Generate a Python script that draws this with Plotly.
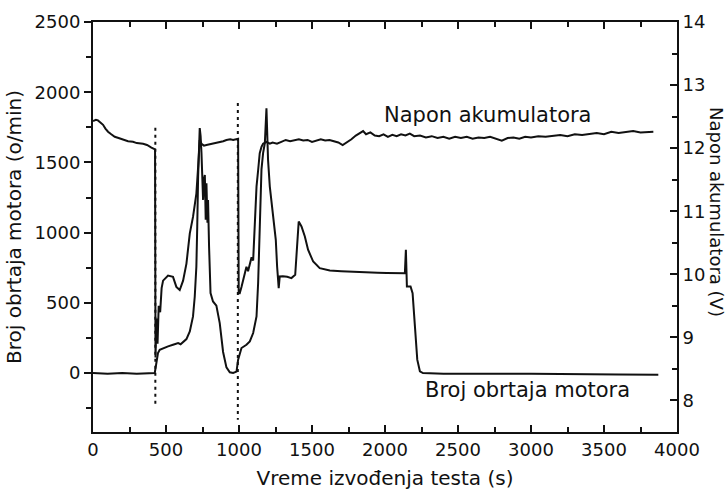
import plotly.graph_objects as go

# Battery voltage (right axis, V)
t_volt = [0, 20, 34, 50, 69, 85, 103, 125, 149, 175, 206, 240, 274, 300, 343, 370, 400, 425,
          428, 435, 442, 450, 460, 470, 480, 514, 548, 571, 594, 617, 640, 663, 685, 708, 720,
          731, 743, 760, 777, 800, 823, 846, 870, 892, 914, 940, 960, 983, 994, 998,
          1005, 1017, 1040, 1051, 1062, 1074, 1086, 1097, 1108, 1120, 1131, 1142, 1154, 1165,
          1188, 1211, 1230, 1260, 1290, 1320, 1350, 1380, 1410, 1440, 1470, 1500, 1530, 1560,
          1590, 1620, 1650, 1680, 1710, 1740, 1770, 1800, 1830, 1850, 1870, 1900, 1930, 1960,
          1990, 2020, 2050, 2080, 2110, 2140, 2170, 2200, 2240, 2280, 2320, 2360, 2400, 2440,
          2480, 2520, 2560, 2600, 2640, 2680, 2720, 2760, 2800, 2840, 2880, 2920, 2960, 3000,
          3050, 3100, 3150, 3200, 3250, 3300, 3350, 3400, 3450, 3500, 3550, 3600, 3650, 3700,
          3750, 3800, 3838]
volt = [12.43, 12.45, 12.44, 12.40, 12.37, 12.31, 12.26, 12.22, 12.18, 12.16, 12.13, 12.11,
        12.10, 12.08, 12.07, 12.05, 12.01, 11.98,
        8.68, 9.3, 8.9, 9.5, 9.4, 9.78, 9.90, 9.98, 9.96, 9.80, 9.75, 9.90, 10.17, 10.65, 10.91,
        11.28, 11.70, 12.13, 12.07, 12.04, 12.05, 12.06, 12.07, 12.08, 12.10, 12.11, 12.13,
        12.14, 12.13, 12.15, 12.15, 9.70,
        9.70, 9.80, 10.01, 10.12, 10.05, 10.17, 10.27, 10.22, 10.75, 11.39, 11.65, 11.92,
        12.02, 12.07, 12.10, 12.07, 12.09, 12.07, 12.10, 12.13, 12.11, 12.12, 12.14, 12.12,
        12.13, 12.10, 12.12, 12.14, 12.12, 12.13, 12.11, 12.09, 12.05, 12.09, 12.14, 12.20,
        12.24, 12.27, 12.22, 12.25, 12.20, 12.19, 12.22, 12.18, 12.21, 12.19, 12.22, 12.20,
        12.23, 12.19, 12.20, 12.17, 12.19, 12.16, 12.18, 12.15, 12.18, 12.16, 12.18, 12.15,
        12.17, 12.16, 12.18, 12.15, 12.12, 12.16, 12.17, 12.15, 12.18, 12.17, 12.19, 12.18,
        12.20, 12.21, 12.19, 12.22, 12.21, 12.23, 12.24, 12.22, 12.26, 12.24, 12.25, 12.27,
        12.25, 12.26, 12.26]

# Engine speed (left axis, o/min)
t_rpm = [0, 100, 200, 300, 423, 436, 445, 457, 480, 514, 548, 583, 600, 640, 663, 685, 697,
         708, 714, 720, 731, 737, 743, 754, 760, 766, 772, 777, 784, 788, 795, 805, 822, 845,
         868, 891, 914, 937, 960, 983, 994, 1017, 1051, 1074, 1097, 1120, 1131, 1142, 1154,
         1165, 1177, 1188, 1193, 1199, 1211, 1234, 1252, 1261, 1272, 1279, 1300, 1330, 1359,
         1385, 1400, 1409, 1428, 1451, 1473, 1508, 1553, 1622, 1700, 1782, 1850, 1896, 1950,
         2011, 2070, 2124, 2136, 2143, 2150, 2175, 2189, 2205, 2221, 2239, 2260, 2400, 2600,
         2800, 3000, 3200, 3400, 3600, 3872]
rpm = [0, -5, 0, -5, 0, 107, 142, 166, 178, 190, 201, 213, 205, 242, 296, 403, 545, 759, 1044,
       1399, 1744, 1690, 1566, 1233, 1380, 1411, 1091, 1352, 1070, 1233, 900, 569, 510, 480,
       356, 150, 40, 5, 0, 10, 95, 178, 201, 225, 285, 403, 641, 1100, 1450, 1566, 1637, 1886,
       1700, 1518, 1328, 1115, 949, 759, 605, 688, 690, 685, 676, 700, 901, 1079, 1044, 972,
       878, 794, 747, 730, 725, 723, 718, 715, 714, 712, 713, 712, 710, 878, 617, 617, 569,
       332, 95, 12, 0, -5, -3, -6, -5, -8, -8, -10, -12]

# Dashed markers (start attempts)
mark_t = [427, 992]
mark_top = [1746, 1924]
mark_bottom = [-226, -332]

FONT = "DejaVu Sans"
INK = "#111111"

fig = go.Figure()
fig.add_trace(go.Scatter(x=t_rpm, y=rpm, mode="lines", line=dict(color=INK, width=2),
                         showlegend=False, name="Broj obrtaja motora"))
fig.add_trace(go.Scatter(x=t_volt, y=volt, mode="lines", line=dict(color=INK, width=2),
                         yaxis="y2", showlegend=False, name="Napon akumulatora"))
for tm, top, bot in zip(mark_t, mark_top, mark_bottom):
    fig.add_trace(go.Scatter(x=[tm, tm], y=[top, bot], mode="lines",
                             line=dict(color=INK, width=2, dash="3px,4px"),
                             showlegend=False, hoverinfo="skip"))

fig.add_annotation(x=2705, y=1838, xref="x", yref="y", text="Napon akumulatora",
                   showarrow=False, font=dict(family=FONT, size=21, color=INK))
fig.add_annotation(x=2979, y=-119, xref="x", yref="y", text="Broj obrtaja motora",
                   showarrow=False, font=dict(family=FONT, size=21, color=INK))
fig.add_annotation(x=1.0665, y=0.537, xref="paper", yref="paper", text="Napon akumulatora (V)",
                   textangle=90, showarrow=False, xanchor="center", yanchor="middle",
                   font=dict(family=FONT, size=18, color=INK))

axis_common = dict(showline=True, linecolor=INK, linewidth=2, showgrid=False, zeroline=False,
                   tickcolor=INK, tickwidth=2, ticklen=7, automargin=False,
                   tickfont=dict(family=FONT, size=18, color=INK))

fig.update_layout(
    width=727, height=490,
    margin=dict(l=93, r=50, t=22, b=58),
    paper_bgcolor="white", plot_bgcolor="white",
    xaxis=dict(range=[0, 4000], dtick=500, ticks="inside", mirror="ticks",
               minor=dict(dtick=250, ticks="inside", ticklen=5, tickcolor=INK, tickwidth=1.5),
               title=dict(text="Vreme izvođenja testa (s)", standoff=14,
                          font=dict(family=FONT, size=20, color=INK)),
               **axis_common),
    yaxis=dict(range=[-420, 2500], dtick=500, ticks="outside",
               minor=dict(dtick=250, ticks="outside", ticklen=5, tickcolor=INK, tickwidth=1.5),
               title=dict(text="Broj obrtaja motora (o/min)", standoff=8,
                          font=dict(family=FONT, size=20, color=INK)),
               **axis_common),
    yaxis2=dict(range=[7.5, 14], dtick=1, ticks="inside", overlaying="y", side="right",
                minor=dict(dtick=0.5, ticks="inside", ticklen=5, tickcolor=INK, tickwidth=1.5),
                **axis_common),
)

fig.write_html("out.html")
